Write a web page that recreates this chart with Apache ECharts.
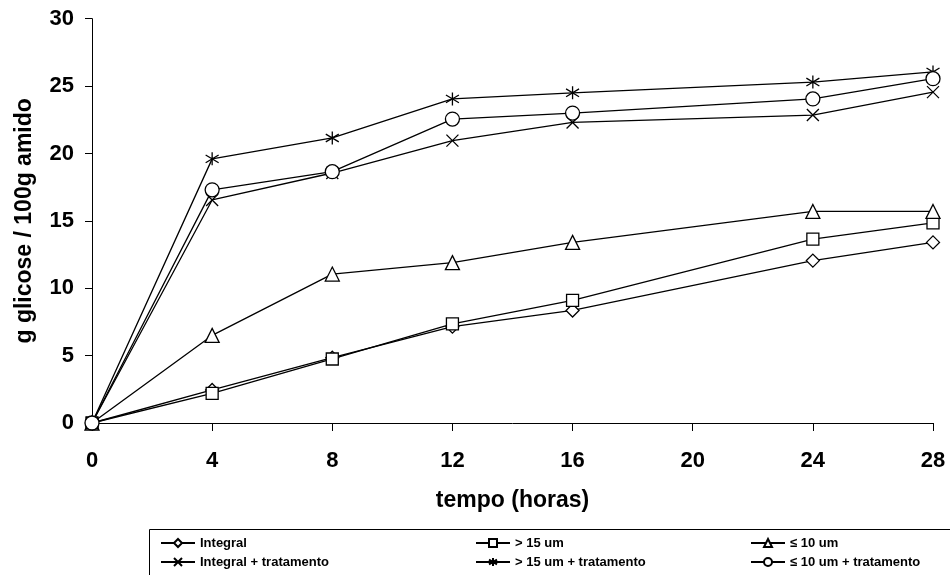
<!DOCTYPE html>
<html>
<head>
<meta charset="utf-8">
<script src="https://cdn.jsdelivr.net/npm/echarts@6/dist/echarts.min.js"></script>
<style>html,body{margin:0;padding:0;background:#fff}#c{width:950px;height:575px}</style>
</head>
<body>
<div id="c"></div>
<script>
const hours = [0, 4, 8, 12, 16, 24, 28];
const integral = [0, 2.45, 4.85, 7.15, 8.35, 12.05, 13.4];
const gt15 = [0, 2.2, 4.75, 7.35, 9.1, 13.65, 14.85];
const le10 = [0, 6.5, 11.05, 11.9, 13.4, 15.7, 15.7];
const integralT = [0, 16.55, 18.55, 20.95, 22.3, 22.85, 24.55];
const gt15T = [0, 19.6, 21.15, 24.05, 24.5, 25.3, 26.05];
const le10T = [0, 17.3, 18.65, 22.55, 23.0, 24.05, 25.55];
const names = ['Integral', '> 15 um', '≤ 10 um', 'Integral + tratamento', '> 15 um + tratamento', '≤ 10 um + tratamento'];
const xTicks = [0, 4, 8, 12, 16, 20, 24, 28];
const yTicks = [0, 5, 10, 15, 20, 25, 30];

const symX = 'path://M0,0L10,10M10,0L0,10';
const symStar = 'path://M5,0L5,10M0,2L10,8M10,2L0,8';
const symbols = ['diamond', 'rect', 'triangle', symX, symStar, 'circle'];
const sizes = [13, 12, 14, 12, 13, 14];
const dataSets = [integral, gt15, le10, integralT, gt15T, le10T];

const font = 'Liberation Sans, Arial, sans-serif';

const series = names.map((n, i) => ({
  name: n,
  type: 'line',
  data: hours.map((h, k) => [h, dataSets[i][k]]),
  symbol: symbols[i],
  symbolSize: sizes[i],
  showAllSymbol: true,
  lineStyle: { color: '#000', width: 1.3 },
  itemStyle: { color: '#fff', borderColor: '#000', borderWidth: 1.3 },
  emphasis: { disabled: true },
  z: 2 + i
}));

const legendCommon = {
  orient: 'vertical', top: 536, padding: 0, height: 60, itemGap: 5, itemWidth: 34, itemHeight: 10,
  textStyle: { fontFamily: font, fontWeight: 'bold', fontSize: 13, lineHeight: 14, color: '#000' },
  selectedMode: false
};

const chart = echarts.init(document.getElementById('c'), null, { renderer: 'canvas' });
chart.setOption({
  animation: false,
  backgroundColor: '#fff',
  grid: { left: 92, right: 17, top: 18.7, bottom: 152, containLabel: false },
  xAxis: {
    type: 'value', min: 0, max: 28, interval: 4,
    name: 'tempo (horas)', nameLocation: 'middle', nameGap: 66,
    nameTextStyle: { fontFamily: font, fontWeight: 'bold', fontSize: 23, color: '#000' },
    axisLine: { show: true, lineStyle: { color: '#000', width: 1 } },
    axisTick: { show: true, length: 8, lineStyle: { color: '#000' } },
    axisLabel: { margin: 27, fontFamily: font, fontWeight: 'bold', fontSize: 22, color: '#000',
      formatter: v => xTicks.includes(v) ? String(v) : '' },
    splitLine: { show: false }
  },
  yAxis: {
    type: 'value', min: 0, max: 30, interval: 5,
    name: 'g glicose / 100g amido', nameLocation: 'middle', nameGap: 56,
    nameTextStyle: { fontFamily: font, fontWeight: 'bold', fontSize: 23, color: '#000' },
    axisLine: { show: true, lineStyle: { color: '#000', width: 1 } },
    axisTick: { show: true, length: 7, lineStyle: { color: '#000' } },
    axisLabel: { margin: 18, fontFamily: font, fontWeight: 'bold', fontSize: 22, color: '#000',
      formatter: v => yTicks.includes(v) ? String(v) : '' },
    splitLine: { show: false }
  },
  legend: [
    Object.assign({}, legendCommon, { left: 160, data: [names[0], names[3]] }),
    Object.assign({}, legendCommon, { left: 475, data: [names[1], names[4]] }),
    Object.assign({}, legendCommon, { left: 750, data: [names[2], names[5]] })
  ],
  graphic: [{
    type: 'rect', left: 147, top: 527, silent: true,
    shape: { width: 801, height: 60 },
    style: { fill: 'none', stroke: '#000', lineWidth: 1 }
  }],
  series: series
});
</script>
</body>
</html>
